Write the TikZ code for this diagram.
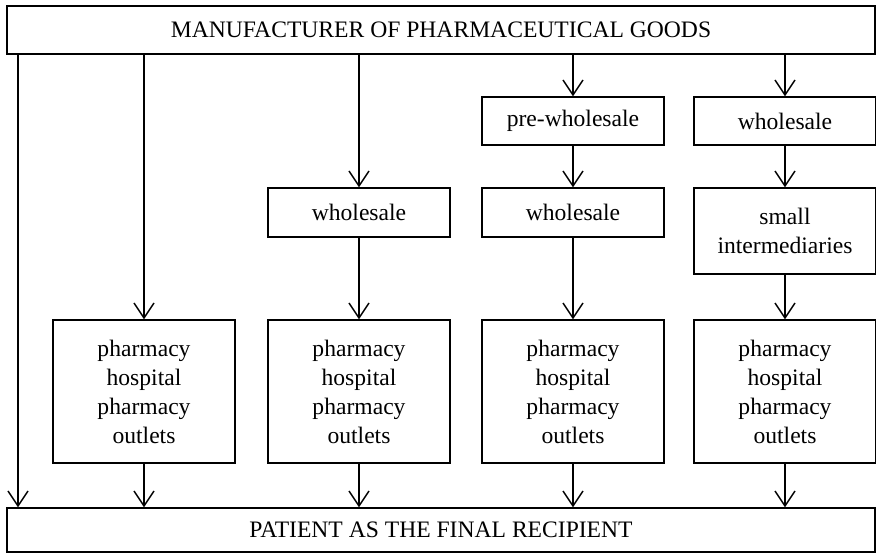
\documentclass[tikz,border=0pt]{standalone}
\usepackage{fontspec}
\setmainfont{Liberation Serif}
\usetikzlibrary{arrows.meta}

\begin{document}
\begin{tikzpicture}[x=1pt,y=-1pt,
	box/.style={draw,line width=1.3pt,rectangle,minimum width=182pt,align=center,inner sep=0pt,font=\fontsize{23.6}{29}\selectfont},
	flow/.style={line width=1.5pt,-{Straight Barb[length=15pt,width=20pt]}}]
	\useasboundingbox (0,0) rectangle (876,553);

	\node[box,minimum width=868pt,minimum height=48pt] (maker) at (441,30) {MANUFACTURER OF PHARMACEUTICAL GOODS};
	\node[box,minimum width=868pt,minimum height=44pt] (patient) at (441,530) {PATIENT AS THE FINAL RECIPIENT};

	\node[box,minimum height=49pt] (whole2) at (359,212.5) {wholesale};
	\node[box,minimum height=48pt] (prewhole3) at (573,121) {pre-wholesale};
	\node[box,minimum height=49pt] (whole3) at (573,212.5) {wholesale};
	\node[box,minimum height=48pt] (whole4) at (785,121) {wholesale};
	\node[box,minimum height=86pt] (small4) at (785,231) {small\\intermediaries};

	\foreach \i/\x in {1/144,2/359,3/573,4/785}{
		\node[box,minimum height=143pt] (outlet\i) at (\x,391.5) {pharmacy\\hospital\\pharmacy\\outlets};
		\draw[flow] (outlet\i.south) -- (outlet\i.south |- patient.north);
	}

	% straight to the patient
	\coordinate (direct) at (18,0);
	\draw[flow] (direct |- maker.south) -- (direct |- patient.north);

	\draw[flow] (maker.south -| outlet1.north) -- (outlet1.north);
	\draw[flow] (maker.south -| whole2.north) -- (whole2.north);
	\draw[flow] (whole2) -- (outlet2);
	\draw[flow] (maker.south -| prewhole3.north) -- (prewhole3.north);
	\draw[flow] (prewhole3) -- (whole3);
	\draw[flow] (whole3) -- (outlet3);
	\draw[flow] (maker.south -| whole4.north) -- (whole4.north);
	\draw[flow] (whole4) -- (small4);
	\draw[flow] (small4) -- (outlet4);
\end{tikzpicture}
\end{document}
